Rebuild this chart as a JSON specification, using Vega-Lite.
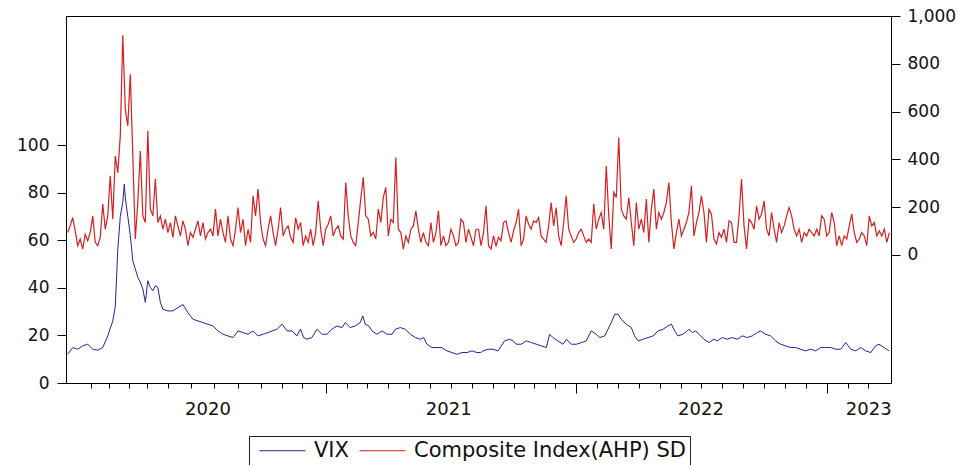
{
"$schema": "https://vega.github.io/schema/vega-lite/v6.json",
"width": 825, "height": 367,
"autosize": {"type": "none"},
"padding": {"left": 66, "top": 16, "right": 78, "bottom": 82},
"background": "#ffffff",
"config": {
 "view": {"stroke": "#000000", "strokeWidth": 1},
 "axis": {"domainColor": "#000", "tickColor": "#000", "labelColor": "#111", "labelFont": "DejaVu Sans", "labelFontSize": 17, "grid": false, "tickWidth": 1, "domainWidth": 1}
},
"datasets": {
"sd": [
{"t":2019.97,"r":93},{"t":2019.98,"r":121},{"t":2019.99,"r":156},{"t":2020.00,"r":100},{"t":2020.01,"r":38},{"t":2020.02,"r":66},{"t":2020.03,"r":24},{"t":2020.04,"r":86},{"t":2020.05,"r":59},{"t":2020.06,"r":93},
{"t":2020.07,"r":163},{"t":2020.08,"r":52},{"t":2020.09,"r":38},{"t":2020.10,"r":73},{"t":2020.11,"r":212},{"t":2020.12,"r":107},{"t":2020.13,"r":163},{"t":2020.14,"r":331},{"t":2020.15,"r":149},{"t":2020.16,"r":414},
{"t":2020.17,"r":344},{"t":2020.18,"r":498},{"t":2020.19,"r":919},{"t":2020.20,"r":609},{"t":2020.21,"r":540},{"t":2020.22,"r":756},{"t":2020.23,"r":414},{"t":2020.24,"r":66},{"t":2020.25,"r":219},{"t":2020.26,"r":435},
{"t":2020.27,"r":163},{"t":2020.28,"r":135},{"t":2020.29,"r":519},{"t":2020.30,"r":191},{"t":2020.31,"r":163},{"t":2020.32,"r":317},{"t":2020.33,"r":135},{"t":2020.34,"r":163},{"t":2020.35,"r":107},{"t":2020.36,"r":149},
{"t":2020.37,"r":93},{"t":2020.38,"r":135},{"t":2020.39,"r":73},{"t":2020.40,"r":163},{"t":2020.41,"r":121},{"t":2020.42,"r":79},{"t":2020.43,"r":142},{"t":2020.44,"r":107},{"t":2020.45,"r":38},{"t":2020.46,"r":93},
{"t":2020.47,"r":73},{"t":2020.48,"r":107},{"t":2020.49,"r":142},{"t":2020.50,"r":79},{"t":2020.51,"r":135},{"t":2020.52,"r":66},{"t":2020.53,"r":93},{"t":2020.54,"r":107},{"t":2020.55,"r":79},{"t":2020.56,"r":191},
{"t":2020.57,"r":79},{"t":2020.58,"r":149},{"t":2020.59,"r":93},{"t":2020.60,"r":52},{"t":2020.61,"r":163},{"t":2020.62,"r":66},{"t":2020.63,"r":38},{"t":2020.64,"r":107},{"t":2020.65,"r":198},{"t":2020.66,"r":93},
{"t":2020.67,"r":149},{"t":2020.68,"r":38},{"t":2020.69,"r":107},{"t":2020.70,"r":52},{"t":2020.71,"r":247},{"t":2020.72,"r":163},{"t":2020.73,"r":275},{"t":2020.74,"r":135},{"t":2020.75,"r":66},{"t":2020.76,"r":38},
{"t":2020.77,"r":107},{"t":2020.78,"r":163},
{"t":2020.79,"r":93},{"t":2020.80,"r":38},{"t":2020.81,"r":107},{"t":2020.82,"r":198},{"t":2020.83,"r":79},{"t":2020.84,"r":107},{"t":2020.85,"r":121},{"t":2020.86,"r":73},{"t":2020.87,"r":52},{"t":2020.88,"r":156},
{"t":2020.89,"r":107},{"t":2020.90,"r":135},{"t":2020.91,"r":38},{"t":2020.92,"r":79},{"t":2020.93,"r":52},{"t":2020.94,"r":107},{"t":2020.95,"r":38},{"t":2020.96,"r":93},{"t":2020.97,"r":226},{"t":2020.98,"r":107},
{"t":2020.99,"r":38},{"t":2021.00,"r":107},{"t":2021.01,"r":128},{"t":2021.02,"r":163},{"t":2021.03,"r":79},{"t":2021.04,"r":107},{"t":2021.05,"r":121},{"t":2021.06,"r":79},{"t":2021.07,"r":66},{"t":2021.08,"r":303},
{"t":2021.09,"r":163},{"t":2021.10,"r":79},{"t":2021.11,"r":52},{"t":2021.12,"r":38},{"t":2021.13,"r":135},{"t":2021.14,"r":233},{"t":2021.15,"r":324},{"t":2021.16,"r":163},{"t":2021.17,"r":149},{"t":2021.18,"r":79},
{"t":2021.19,"r":93},{"t":2021.20,"r":66},{"t":2021.21,"r":191},{"t":2021.22,"r":135},{"t":2021.23,"r":240},{"t":2021.24,"r":282},{"t":2021.25,"r":79},{"t":2021.26,"r":149},{"t":2021.27,"r":135},{"t":2021.28,"r":407},
{"t":2021.29,"r":107},{"t":2021.30,"r":93},{"t":2021.31,"r":24},{"t":2021.32,"r":79},{"t":2021.33,"r":52},{"t":2021.34,"r":107},{"t":2021.35,"r":121},{"t":2021.36,"r":184},{"t":2021.37,"r":107},{"t":2021.38,"r":52},
{"t":2021.39,"r":93},{"t":2021.40,"r":52},{"t":2021.41,"r":38},{"t":2021.42,"r":135},{"t":2021.43,"r":52},{"t":2021.44,"r":93},{"t":2021.45,"r":184},{"t":2021.46,"r":38},{"t":2021.47,"r":79},{"t":2021.48,"r":38},
{"t":2021.49,"r":52},{"t":2021.50,"r":107},{"t":2021.51,"r":79},{"t":2021.52,"r":38},{"t":2021.53,"r":52},{"t":2021.54,"r":149},{"t":2021.55,"r":135},{"t":2021.56,"r":52},{"t":2021.57,"r":107},{"t":2021.58,"r":73},
{"t":2021.59,"r":38},{"t":2021.60,"r":107},
{"t":2021.61,"r":107},{"t":2021.62,"r":38},{"t":2021.63,"r":93},{"t":2021.64,"r":205},{"t":2021.65,"r":38},{"t":2021.66,"r":24},{"t":2021.67,"r":79},{"t":2021.68,"r":38},{"t":2021.69,"r":73},{"t":2021.70,"r":59},
{"t":2021.71,"r":135},{"t":2021.72,"r":142},{"t":2021.73,"r":93},{"t":2021.74,"r":52},{"t":2021.75,"r":100},{"t":2021.76,"r":135},{"t":2021.77,"r":191},{"t":2021.78,"r":38},{"t":2021.79,"r":66},{"t":2021.80,"r":163},
{"t":2021.81,"r":128},{"t":2021.82,"r":107},{"t":2021.83,"r":142},{"t":2021.84,"r":135},{"t":2021.85,"r":156},{"t":2021.86,"r":79},{"t":2021.87,"r":66},{"t":2021.88,"r":52},{"t":2021.89,"r":121},{"t":2021.90,"r":219},
{"t":2021.91,"r":121},{"t":2021.92,"r":198},{"t":2021.93,"r":79},{"t":2021.94,"r":38},{"t":2021.95,"r":135},{"t":2021.96,"r":247},{"t":2021.97,"r":107},{"t":2021.98,"r":79},{"t":2021.99,"r":52},{"t":2022.00,"r":66},
{"t":2022.01,"r":93},{"t":2022.02,"r":107},{"t":2022.03,"r":79},{"t":2022.04,"r":52},{"t":2022.05,"r":66},{"t":2022.06,"r":52},{"t":2022.07,"r":212},{"t":2022.08,"r":107},{"t":2022.09,"r":149},{"t":2022.10,"r":177},
{"t":2022.11,"r":107},{"t":2022.12,"r":372},{"t":2022.13,"r":163},{"t":2022.14,"r":24},{"t":2022.15,"r":261},{"t":2022.16,"r":240},{"t":2022.17,"r":491},{"t":2022.18,"r":191},{"t":2022.19,"r":163},{"t":2022.20,"r":149},
{"t":2022.21,"r":240},{"t":2022.22,"r":135},{"t":2022.23,"r":38},{"t":2022.24,"r":219},{"t":2022.25,"r":107},{"t":2022.26,"r":149},{"t":2022.27,"r":93},{"t":2022.28,"r":233},{"t":2022.29,"r":52},{"t":2022.30,"r":191},
{"t":2022.31,"r":275},{"t":2022.32,"r":107},{"t":2022.33,"r":177},{"t":2022.34,"r":149},{"t":2022.35,"r":177},{"t":2022.36,"r":219},{"t":2022.37,"r":303},{"t":2022.38,"r":135},{"t":2022.39,"r":24},{"t":2022.40,"r":93},
{"t":2022.41,"r":149},{"t":2022.42,"r":79},{"t":2022.43,"r":107},
{"t":2022.44,"r":135},{"t":2022.45,"r":177},{"t":2022.46,"r":289},{"t":2022.47,"r":79},{"t":2022.48,"r":135},{"t":2022.49,"r":177},{"t":2022.50,"r":247},{"t":2022.51,"r":177},{"t":2022.52,"r":52},{"t":2022.53,"r":191},
{"t":2022.54,"r":170},{"t":2022.55,"r":66},{"t":2022.56,"r":45},{"t":2022.57,"r":93},{"t":2022.58,"r":73},{"t":2022.59,"r":107},{"t":2022.60,"r":52},{"t":2022.61,"r":142},{"t":2022.62,"r":135},{"t":2022.63,"r":52},
{"t":2022.64,"r":52},{"t":2022.65,"r":163},{"t":2022.66,"r":317},{"t":2022.67,"r":121},{"t":2022.68,"r":24},{"t":2022.69,"r":149},{"t":2022.70,"r":135},{"t":2022.71,"r":107},{"t":2022.72,"r":205},{"t":2022.73,"r":149},
{"t":2022.74,"r":170},{"t":2022.75,"r":226},{"t":2022.76,"r":107},{"t":2022.77,"r":79},{"t":2022.78,"r":177},{"t":2022.79,"r":107},{"t":2022.80,"r":52},{"t":2022.81,"r":135},{"t":2022.82,"r":93},{"t":2022.83,"r":121},
{"t":2022.84,"r":163},{"t":2022.85,"r":198},{"t":2022.86,"r":163},{"t":2022.87,"r":107},{"t":2022.88,"r":79},{"t":2022.89,"r":107},{"t":2022.90,"r":52},{"t":2022.91,"r":93},{"t":2022.92,"r":79},{"t":2022.93,"r":107},
{"t":2022.94,"r":93},{"t":2022.95,"r":79},{"t":2022.96,"r":107},{"t":2022.97,"r":79},{"t":2022.98,"r":163},{"t":2022.99,"r":149},{"t":2023.00,"r":79},{"t":2023.01,"r":93},{"t":2023.02,"r":177},{"t":2023.03,"r":135},
{"t":2023.04,"r":38},{"t":2023.05,"r":79},{"t":2023.06,"r":38},{"t":2023.07,"r":79},{"t":2023.08,"r":66},{"t":2023.09,"r":121},{"t":2023.10,"r":170},{"t":2023.11,"r":93},{"t":2023.12,"r":52},{"t":2023.13,"r":66},
{"t":2023.14,"r":93},{"t":2023.15,"r":79},{"t":2023.16,"r":38},{"t":2023.17,"r":163},{"t":2023.18,"r":121},{"t":2023.19,"r":135},{"t":2023.20,"r":79},{"t":2023.21,"r":100},{"t":2023.22,"r":79},{"t":2023.23,"r":107},
{"t":2023.24,"r":52},{"t":2023.25,"r":93}
],
"vix": [
{"t":2019.97,"v":12.1},{"t":2019.99,"v":14.9},{"t":2020.01,"v":14.2},{"t":2020.03,"v":15.6},{"t":2020.05,"v":16.3},{"t":2020.07,"v":14.2},{"t":2020.09,"v":13.8},{"t":2020.11,"v":14.9},{"t":2020.13,"v":19.8},{"t":2020.14,"v":23},
{"t":2020.15,"v":26},{"t":2020.16,"v":32},{"t":2020.17,"v":56},{"t":2020.18,"v":70},{"t":2020.19,"v":76},{"t":2020.196,"v":83.6},{"t":2020.20,"v":78},{"t":2020.21,"v":70},{"t":2020.22,"v":62},{"t":2020.23,"v":51.4},
{"t":2020.24,"v":47.9},{"t":2020.25,"v":44.4},{"t":2020.26,"v":42.3},{"t":2020.27,"v":39.5},{"t":2020.28,"v":33.9},{"t":2020.29,"v":43.0},{"t":2020.30,"v":40.2},{"t":2020.31,"v":38.8},{"t":2020.32,"v":40.9},{"t":2020.33,"v":40.2},
{"t":2020.34,"v":33.9},{"t":2020.35,"v":31.0},{"t":2020.37,"v":30.3},{"t":2020.39,"v":30.3},{"t":2020.41,"v":31.7},{"t":2020.43,"v":33.0},{"t":2020.45,"v":29.6},{"t":2020.47,"v":26.8},{"t":2020.49,"v":26.1},{"t":2020.51,"v":25.4},
{"t":2020.53,"v":24.7},{"t":2020.55,"v":24.0},{"t":2020.57,"v":21.9},{"t":2020.59,"v":20.5},{"t":2020.61,"v":19.8},{"t":2020.63,"v":19.1},{"t":2020.65,"v":21.9},{"t":2020.67,"v":21.2},{"t":2020.69,"v":20.5},{"t":2020.71,"v":21.9},
{"t":2020.73,"v":19.8},{"t":2020.75,"v":20.5},{"t":2020.77,"v":21.2},
{"t":2020.786,"v":21.9},{"t":2020.806,"v":22.6},{"t":2020.826,"v":24.7},{"t":2020.846,"v":21.9},{"t":2020.866,"v":21.9},{"t":2020.885,"v":19.8},{"t":2020.899,"v":22.6},{"t":2020.912,"v":19.1},{"t":2020.925,"v":18.4},{"t":2020.945,"v":19.1},
{"t":2020.965,"v":22.6},{"t":2020.985,"v":20.5},{"t":2021.005,"v":20.5},{"t":2021.025,"v":22.6},{"t":2021.045,"v":24.0},{"t":2021.065,"v":23.3},{"t":2021.078,"v":25.4},{"t":2021.098,"v":23.3},{"t":2021.118,"v":24.0},{"t":2021.138,"v":25.4},
{"t":2021.148,"v":28.2},{"t":2021.158,"v":24.7},{"t":2021.172,"v":24.0},{"t":2021.185,"v":21.9},{"t":2021.205,"v":20.5},{"t":2021.225,"v":21.9},{"t":2021.245,"v":20.5},{"t":2021.265,"v":20.5},{"t":2021.278,"v":22.6},{"t":2021.298,"v":23.3},
{"t":2021.318,"v":22.6},{"t":2021.338,"v":20.5},{"t":2021.358,"v":19.1},{"t":2021.378,"v":18.4},{"t":2021.391,"v":19.1},{"t":2021.404,"v":16.3},{"t":2021.424,"v":14.9},{"t":2021.444,"v":14.9},{"t":2021.464,"v":14.9},{"t":2021.484,"v":13.5},
{"t":2021.504,"v":12.8},{"t":2021.524,"v":12.1},{"t":2021.544,"v":12.8},{"t":2021.564,"v":12.8},{"t":2021.584,"v":13.5},{"t":2021.604,"v":12.8},
{"t":2021.619,"v":12.8},{"t":2021.628,"v":13.5},{"t":2021.648,"v":14.2},{"t":2021.668,"v":14.2},{"t":2021.688,"v":13.5},{"t":2021.701,"v":15.6},{"t":2021.714,"v":17.7},{"t":2021.734,"v":18.4},{"t":2021.748,"v":17.7},{"t":2021.761,"v":16.3},
{"t":2021.781,"v":16.3},{"t":2021.801,"v":17.7},{"t":2021.821,"v":17.0},{"t":2021.841,"v":16.3},{"t":2021.861,"v":15.6},{"t":2021.881,"v":14.9},{"t":2021.894,"v":20.5},{"t":2021.907,"v":19.1},{"t":2021.927,"v":17.7},{"t":2021.947,"v":16.3},
{"t":2021.961,"v":18.4},{"t":2021.981,"v":16.3},{"t":2022.001,"v":16.3},{"t":2022.021,"v":17.0},{"t":2022.040,"v":17.7},{"t":2022.060,"v":21.9},{"t":2022.080,"v":20.5},{"t":2022.094,"v":19.1},{"t":2022.114,"v":19.8},{"t":2022.127,"v":22.6},
{"t":2022.140,"v":25.4},{"t":2022.154,"v":28.9},{"t":2022.167,"v":28.9},{"t":2022.180,"v":26.8},{"t":2022.200,"v":24.7},{"t":2022.220,"v":23.3},{"t":2022.233,"v":19.8},{"t":2022.247,"v":17.7},{"t":2022.267,"v":18.4},{"t":2022.287,"v":19.1},
{"t":2022.307,"v":19.8},{"t":2022.327,"v":21.9},{"t":2022.347,"v":22.6},{"t":2022.366,"v":24.0},{"t":2022.380,"v":24.7},{"t":2022.393,"v":21.9},{"t":2022.406,"v":19.8},{"t":2022.426,"v":20.5},
{"t":2022.444,"v":21.9},{"t":2022.450,"v":22.6},{"t":2022.464,"v":21.2},{"t":2022.477,"v":21.9},{"t":2022.490,"v":20.5},{"t":2022.510,"v":18.4},{"t":2022.530,"v":17.0},{"t":2022.550,"v":18.4},{"t":2022.563,"v":17.7},{"t":2022.583,"v":19.1},
{"t":2022.603,"v":18.4},{"t":2022.623,"v":19.1},{"t":2022.643,"v":18.4},{"t":2022.663,"v":19.8},{"t":2022.683,"v":19.1},{"t":2022.703,"v":19.8},{"t":2022.723,"v":21.2},{"t":2022.736,"v":21.9},{"t":2022.756,"v":20.5},{"t":2022.776,"v":19.8},
{"t":2022.796,"v":17.7},{"t":2022.816,"v":16.3},{"t":2022.836,"v":15.6},{"t":2022.856,"v":14.9},{"t":2022.876,"v":14.9},{"t":2022.896,"v":14.2},{"t":2022.916,"v":13.5},{"t":2022.936,"v":14.2},{"t":2022.956,"v":13.5},{"t":2022.976,"v":14.9},
{"t":2022.996,"v":14.9},{"t":2023.016,"v":14.9},{"t":2023.036,"v":14.2},{"t":2023.056,"v":14.2},{"t":2023.076,"v":17.0},{"t":2023.096,"v":14.2},{"t":2023.116,"v":13.5},{"t":2023.136,"v":14.9},{"t":2023.156,"v":13.5},{"t":2023.176,"v":12.8},
{"t":2023.195,"v":15.6},{"t":2023.209,"v":16.3},{"t":2023.229,"v":14.9},{"t":2023.249,"v":13.5}
]
},
"layer": [
{
 "data": {"name": "sd"},
 "mark": {"type": "line", "strokeWidth": 1.2},
 "encoding": {
  "x": {"field": "t", "type": "quantitative",
   "scale": {"domain": [2019.9633, 2023.2567], "nice": false, "zero": false},
   "axis": {"orient": "bottom", "title": null, "values": [2020.528, 2021, 2021.489, 2022, 2022.496, 2023, 2023.166],
    "tickSize": 10,
    "tickColor": {"condition": {"test": "datum.value == 2021 || datum.value == 2022 || datum.value == 2023", "value": "#000"}, "value": "rgba(0,0,0,0)"},
    "labelExpr": "datum.value == 2021 || datum.value == 2022 || datum.value == 2023 ? '' : toString(floor(datum.value))",
    "labelPadding": 7, "labelFontSize": 18, "labelOverlap": false, "labelFlush": false, "domain": false}},
  "y": {"field": "r", "type": "quantitative",
   "scale": {"domain": [-537, 1000], "nice": false, "zero": false},
   "axis": {"orient": "right", "title": null, "values": [0, 200, 400, 600, 800, 1000], "format": ",d", "tickSize": 9, "labelPadding": 7}},
  "color": {"datum": "Composite Index(AHP) SD", "type": "nominal",
   "scale": {"domain": ["VIX", "Composite Index(AHP) SD"], "range": ["#22229a", "#d42020"]},
   "legend": {"title": null, "orient": "none", "legendX": 183, "legendY": 420, "direction": "horizontal",
    "symbolType": "M-4,0H42", "symbolSize": 4, "symbolStrokeWidth": 1, "labelOffset": 40, "labelLimit": 500,
    "labelFontSize": 21, "labelFont": "DejaVu Sans", "labelColor": "#111", "columnPadding": 4,
    "padding": 4, "strokeColor": "#222", "fillColor": "#ffffff"}}
 }
},
{
 "data": {"name": "vix"},
 "mark": {"type": "line", "strokeWidth": 1},
 "encoding": {
  "x": {"field": "t", "type": "quantitative",
   "axis": {"orient": "bottom", "title": null, "labels": false, "tickSize": 5, "domain": true,
    "values": [2020.062, 2020.135, 2020.215, 2020.288, 2020.369, 2020.461, 2020.555, 2020.649, 2020.741, 2020.827, 2020.904,
     2021.0833, 2021.1667, 2021.25, 2021.3333, 2021.4167, 2021.5, 2021.5833, 2021.6667, 2021.75, 2021.8333, 2021.9167,
     2022.0833, 2022.1667, 2022.25, 2022.3333, 2022.4167, 2022.5, 2022.5833, 2022.6667, 2022.75, 2022.8333, 2022.9167,
     2023.0833, 2023.1667]}},
  "y": {"field": "v", "type": "quantitative",
   "scale": {"domain": [0, 154.3], "nice": false, "zero": false},
   "axis": {"orient": "left", "title": null, "values": [0, 20, 40, 60, 80, 100], "tickSize": 9, "labelPadding": 8}},
  "color": {"datum": "VIX", "type": "nominal"}
 }
}
],
"resolve": {"scale": {"y": "independent"}, "axis": {"x": "independent", "y": "independent"}}
}
